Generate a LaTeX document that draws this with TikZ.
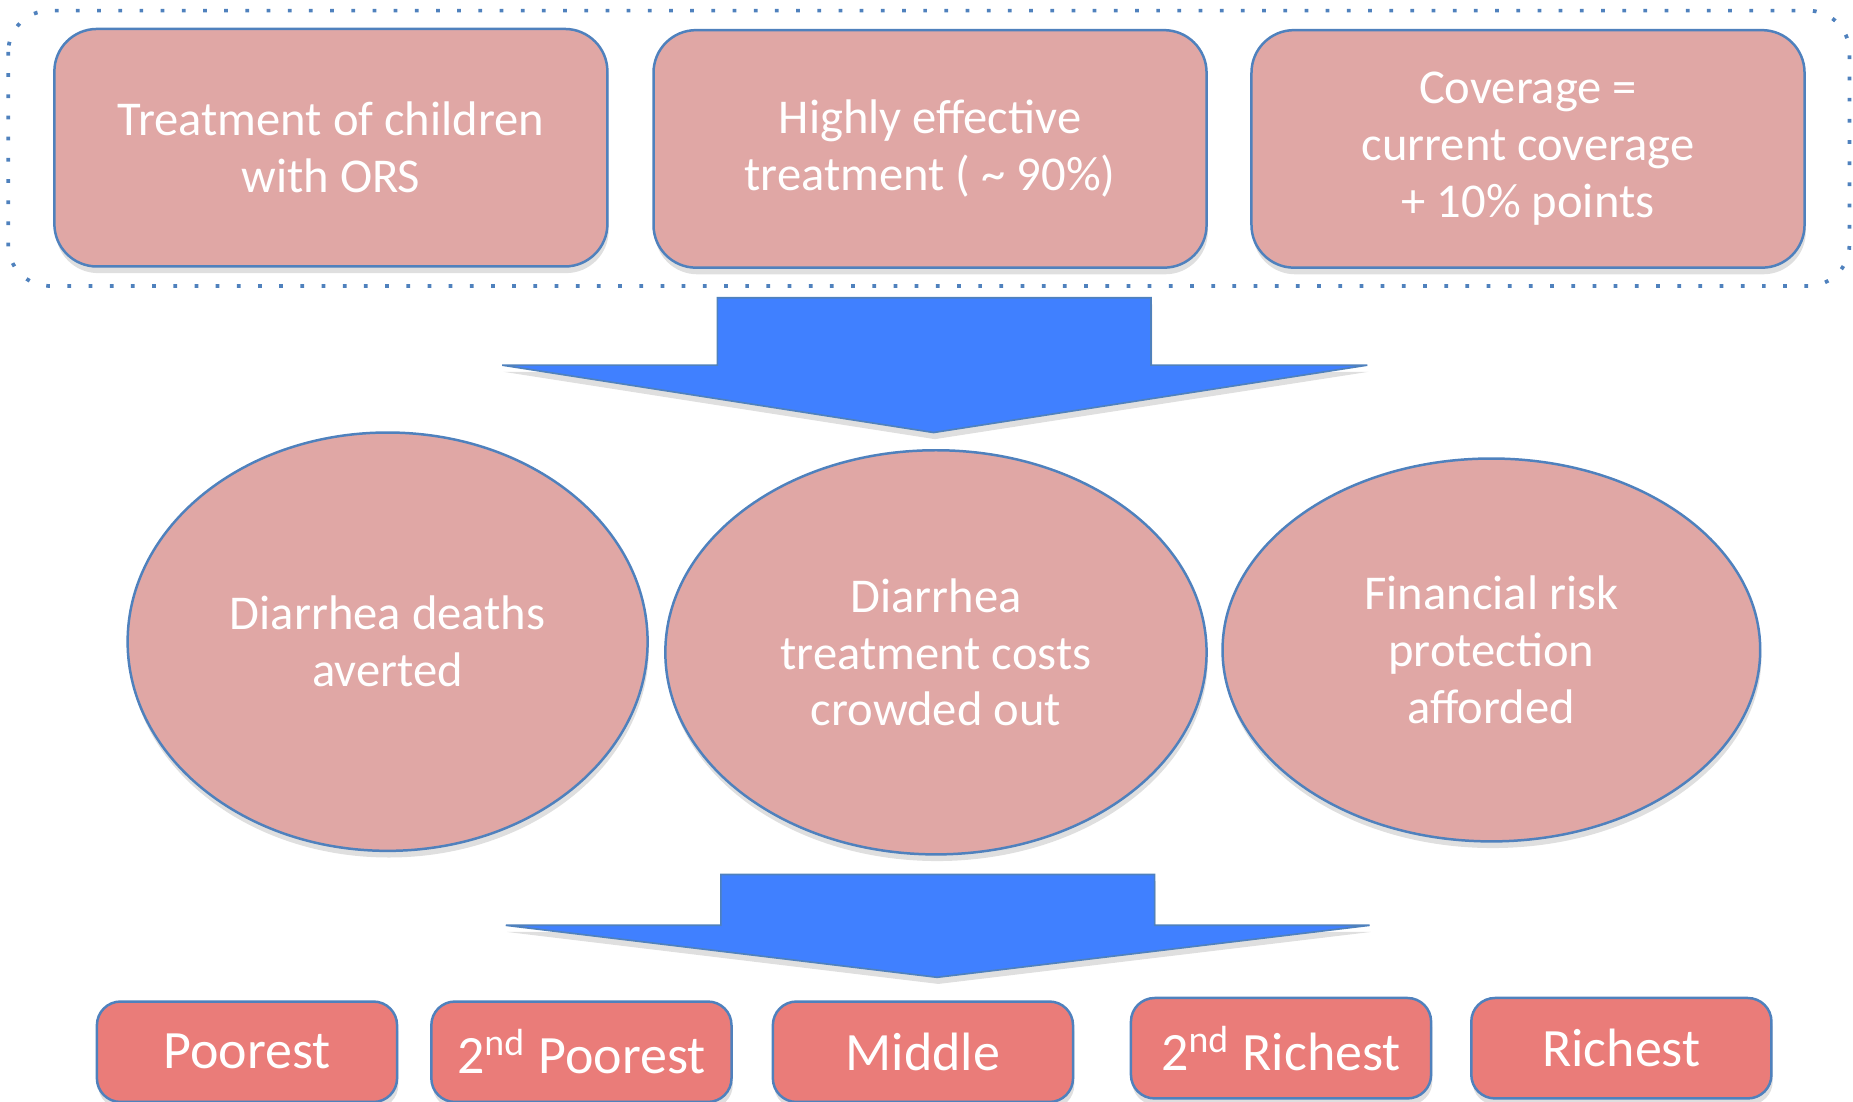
\documentclass[tikz,border=0pt]{standalone}
\usepackage{fontspec}
\setmainfont{Carlito}
\usetikzlibrary{shapes.geometric,shadows}

\definecolor{boxpink}{RGB}{224,167,165}
\definecolor{tierred}{RGB}{234,124,121}
\definecolor{edgeblue}{RGB}{79,129,189}
\definecolor{arrowblue}{RGB}{64,128,255}

\tikzset{
  softshadow/.style={drop shadow={shadow xshift=0.3pt, shadow yshift=-1.6pt, opacity=0.25}},
  inputbox/.style={draw=edgeblue, line width=0.6pt, fill=boxpink, rounded corners=3.6mm,
    minimum width=4.68cm, minimum height=2.01cm, align=center, text=white,
    font=\fontsize{11.7}{13.7}\selectfont, softshadow},
  outcome/.style={ellipse, draw=edgeblue, line width=0.6pt, fill=boxpink, inner sep=0pt,
    align=center, text=white, font=\fontsize{11.7}{13.7}\selectfont, softshadow},
  tierbox/.style={draw=edgeblue, line width=0.6pt, fill=tierred, rounded corners=2mm,
    minimum width=2.54cm, minimum height=0.85cm, text=white,
    font=\fontsize{13}{15}\selectfont, softshadow},
  blockarrow/.style={fill=arrowblue, draw=edgeblue, line width=0.4pt, softshadow},
  groupframe/.style={draw=edgeblue, line width=0.9pt, dash pattern=on 0.9pt off 4.2pt,
    rounded corners=3.5mm}
}

\begin{document}
\begin{tikzpicture}[x=0.1mm, y=-0.1mm]

	\useasboundingbox (0,0) rectangle (1568,932);

	% Dotted frame round the intervention
	\draw[groupframe] (7,9) rectangle (1565,242);

	% Intervention boxes
	\node[inputbox] (ors) at (280,125) {Treatment of children\\with ORS};
	\node[inputbox] (effect) at (787,126) {Highly effective\\treatment ( \textasciitilde{} 90\%)};
	\node[inputbox] (cover) at (1293,126) {Coverage =\\current coverage\\+ 10\% points};

	% First block arrow
	\path[blockarrow] (607,252) -- (974,252) -- (974,309) -- (1157,309) -- (790,366)
		-- (425,309) -- (607,309) -- cycle;

	% Outcomes
	\node[outcome, minimum width=4.40cm, minimum height=3.54cm] (deaths) at (328,543)
		{Diarrhea deaths\\averted};
	\node[outcome, minimum width=4.58cm, minimum height=3.42cm] (costs) at (792,552)
		{Diarrhea\\treatment costs\\crowded out};
	\node[outcome, minimum width=4.55cm, minimum height=3.24cm] (risk) at (1262,550)
		{Financial risk\\protection\\afforded};

	% Second block arrow
	\path[blockarrow] (610,740) -- (977,740) -- (977,783) -- (1159,783) -- (793,827)
		-- (428,783) -- (610,783) -- cycle;

	% Income quintiles
	\node[tierbox] (q1) at (209,890) {Poorest};
	\node[tierbox] (q2) at (492,890) {2\textsuperscript{nd} Poorest};
	\node[tierbox] (q3) at (781,890) {Middle};
	\node[tierbox] (q4) at (1084,887) {2\textsuperscript{nd} Richest};
	\node[tierbox] (q5) at (1372,887) {Richest};

\end{tikzpicture}
\end{document}
